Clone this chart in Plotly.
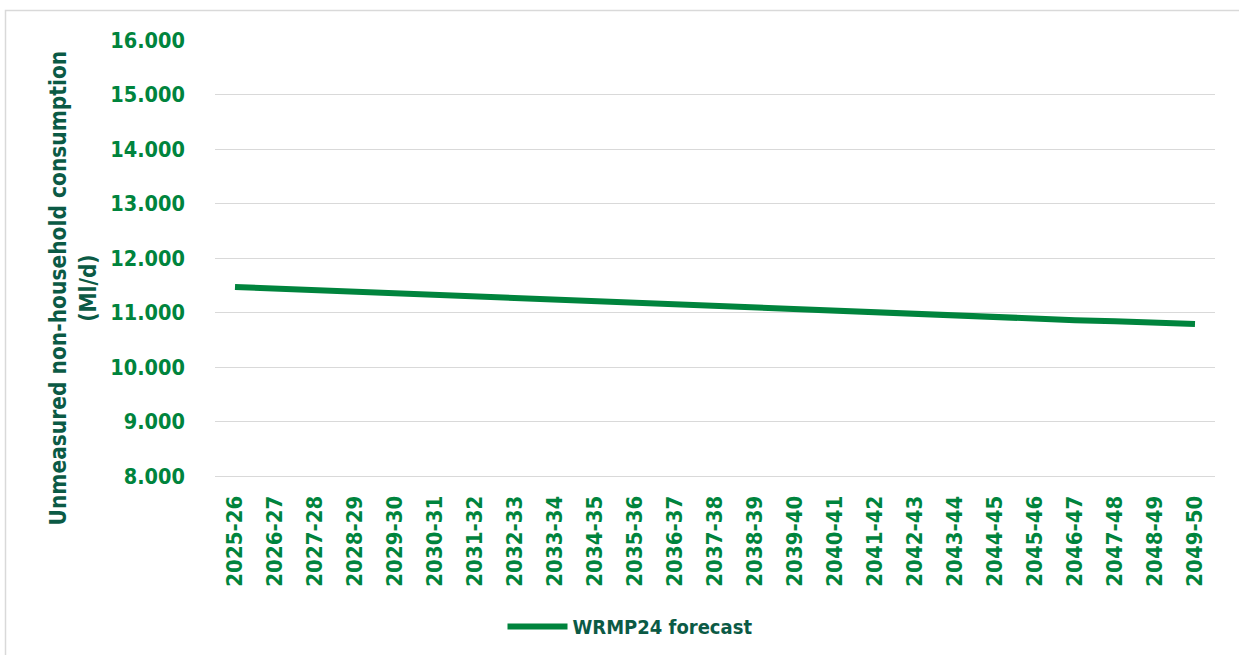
import plotly.graph_objects as go

years = [
    "2025-26", "2026-27", "2027-28", "2028-29", "2029-30", "2030-31", "2031-32",
    "2032-33", "2033-34", "2034-35", "2035-36", "2036-37", "2037-38", "2038-39",
    "2039-40", "2040-41", "2041-42", "2042-43", "2043-44", "2044-45", "2045-46",
    "2046-47", "2047-48", "2048-49", "2049-50",
]
wrmp24_forecast = [
    11.47, 11.44, 11.41, 11.38, 11.35, 11.32, 11.29, 11.26, 11.23, 11.20,
    11.17, 11.14, 11.11, 11.08, 11.05, 11.02, 10.99, 10.96, 10.93, 10.91,
    10.88, 10.86, 10.84, 10.81, 10.79,
]

GREEN = "#00843D"
DARK = "#0B5A45"
FONT = "DejaVu Sans Condensed, Lato, sans-serif"

fig = go.Figure()
fig.add_trace(go.Scatter(
    x=years,
    y=wrmp24_forecast,
    mode="lines",
    name="WRMP24 forecast",
    line=dict(color=GREEN, width=6),
))

fig.update_layout(
    width=1239,
    height=655,
    margin=dict(l=215, r=24, t=40, b=179, autoexpand=False),
    plot_bgcolor="white",
    paper_bgcolor="white",
    font=dict(family=FONT, color=GREEN),
    showlegend=True,
    legend=dict(
        orientation="h",
        x=0.415, xanchor="center",
        y=-0.345, yanchor="middle",
        itemwidth=60,
        font=dict(family=FONT, size=20, color=DARK, weight="bold"),
    ),
    xaxis=dict(
        type="category",
        range=[-0.5, 24.5],
        tickangle=-90,
        tickfont=dict(family=FONT, size=22, color=GREEN, weight="bold"),
        showgrid=False,
        showline=True,
        linecolor="#d9d9d9",
        linewidth=1,
        ticks="",
        ticklabelstandoff=10,
    ),
    yaxis=dict(
        range=[8, 16],
        dtick=1,
        tickformat=".3f",
        tickfont=dict(family=FONT, size=21.5, color=GREEN, weight="bold"),
        showgrid=True,
        gridcolor="#d9d9d9",
        gridwidth=1,
        zeroline=False,
        ticks="",
        ticklabelstandoff=29,
    ),
    shapes=[dict(
        type="rect", xref="paper", yref="paper",
        x0=-0.2095, x1=1.2, y0=-0.6, y1=1.0677,
        line=dict(color="#d9d9d9", width=1.5),
        fillcolor="rgba(0,0,0,0)",
        layer="below",
    )],
    annotations=[dict(
        text="Unmeasured non-household consumption<br>(Ml/d)",
        xref="paper", yref="paper",
        x=-0.142, y=0.43,
        xanchor="center", yanchor="middle",
        textangle=-90,
        showarrow=False,
        font=dict(family=FONT, size=22.5, color=DARK, weight="bold"),
    )],
)

fig.write_html(
    "out.html",
    config={"displayModeBar": False},
    post_script="document.body.style.margin='0';",
)
